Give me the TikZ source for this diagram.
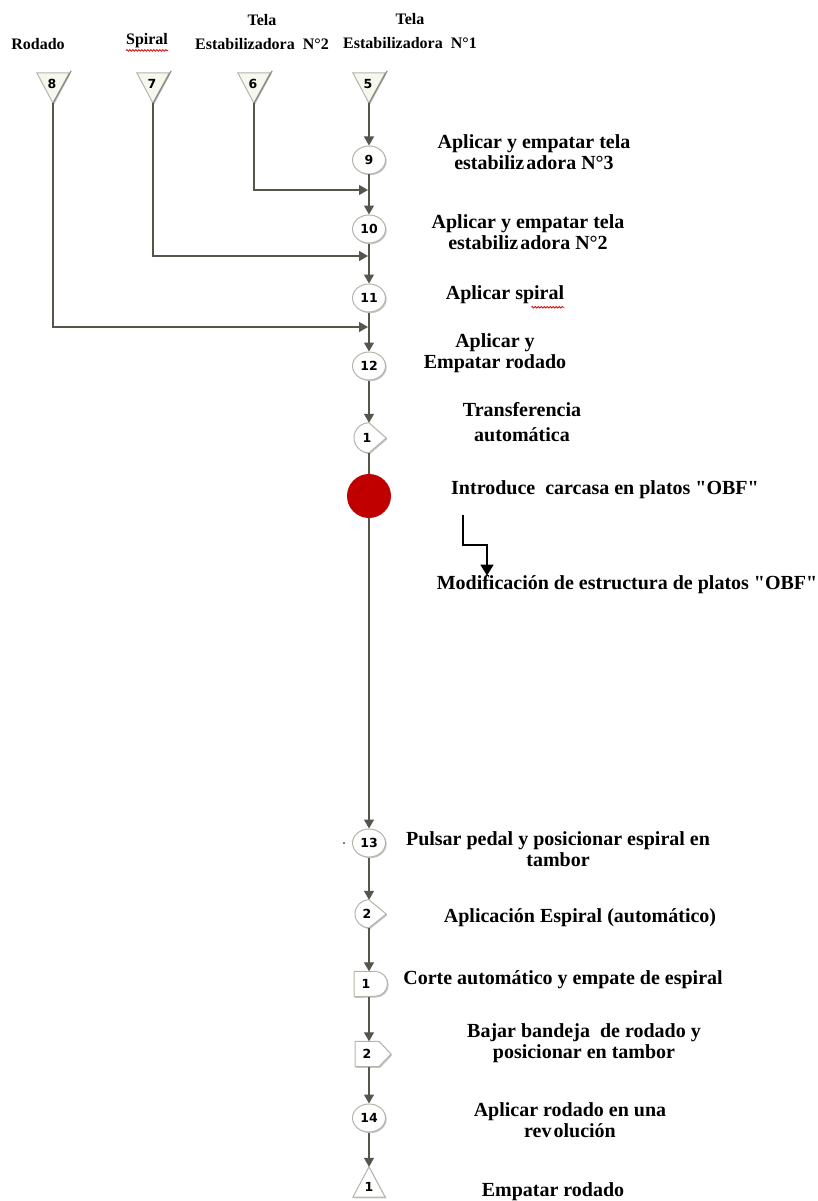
\documentclass[tikz,border=0pt]{standalone}
\usepackage{fontspec}
\setmainfont{Liberation Serif}[Ligatures=TeXOff]
\newfontfamily\numfont{DejaVu Sans}
\usetikzlibrary{arrows.meta,shapes.geometric,shadows,decorations.pathmorphing}
\definecolor{linec}{HTML}{55554A}
\definecolor{edgec}{HTML}{B4B4AA}
\definecolor{paper}{HTML}{F6F7EE}
\definecolor{opred}{HTML}{C00000}

\begin{document}
\begin{tikzpicture}[x=1pt,y=1pt,
  flow/.style={draw=linec,line width=1.3pt},
  arr/.style={flow,-{Triangle[length=9pt,width=10pt]}},
  shp/.style={draw=edgec,line width=1pt,fill=white,
    drop shadow={shadow xshift=1.2pt,shadow yshift=-1.2pt,fill=black!45,opacity=0.5}},
  holder/.style={inner sep=0pt,minimum width=#1},
  num/.style={font=\numfont\bfseries\fontsize{12.5}{13}\selectfont,inner sep=0pt},
  op/.style={shp,ellipse,num,minimum width=33pt,minimum height=28pt},
  lbl/.style={font=\bfseries\fontsize{20}{21}\selectfont,align=center,inner sep=0pt},
  hdr/.style={font=\bfseries\fontsize{16}{24}\selectfont,align=center,inner sep=0pt},
  squig/.style={draw=red!85!black,line width=0.8pt,decorate,
    decoration={snake,amplitude=0.8pt,segment length=3pt}}
]
\useasboundingbox (0,0) rectangle (817,-1201);

% material headings
\node[hdr] (hRod) at (38,-44) {Rodado};
\node[hdr] (hSp) at (147,-41) {Spiral};
\node[hdr] (hT2) at (262,-32) {Tela\\Estabilizadora~~N°2};
\node[hdr] (hT1) at (410,-31) {Tela\\Estabilizadora~~N°1};
\draw[squig] ([yshift=-2pt]hSp.south west) -- ([yshift=-2pt]hSp.south east);

% material storage triangles
\foreach \k/\x in {8/53,7/153,6/254,5/369}{
  \node[holder=32pt,minimum height=30pt] (s\k) at (\x,-88) {};
  \draw[shp,fill=paper] (s\k.north west) -- (s\k.north east) -- (s\k.south) -- cycle;
  \draw[linec!70,line width=1.1pt] (s\k.south) -- ([xshift=2pt,yshift=2pt]s\k.north east);
  \node[num] (sn\k) at (\x-1,-84) {\k};
}

% operations on the main line
\node[op] (o9)  at (369,-160) {9};
\node[op] (o10) at (369,-229) {10};
\node[op] (o11) at (369,-298) {11};
\node[op] (o12) at (369,-366) {12};

% transport 1
\node[holder=34pt,minimum height=30pt] (tr1) at (369,-438) {};
\draw[shp] (tr1.north) arc[start angle=90,end angle=270,radius=15pt] -- (tr1.east) -- cycle;
\node[num] (tr1n) at (367,-438) {1};

% red operation
\node[circle,fill=opred,minimum size=44pt,inner sep=0pt] (red) at (369,-496) {};

\node[op] (o13) at (369,-843) {13};
\fill[linec] (344,-843) circle (1.1pt);

% transport 2
\node[holder=34pt,minimum height=28pt] (tr2) at (369,-914) {};
\draw[shp] (tr2.north) arc[start angle=90,end angle=270,radius=14pt] -- (tr2.east) -- cycle;
\node[num] (tr2n) at (367,-914) {2};

% delay 1
\node[holder=30pt,minimum height=25pt] (d1) at (369,-984) {};
\draw[shp] ([xshift=-15pt]d1.north) -- ([xshift=6pt]d1.north)
  arc[start angle=90,end angle=-90,radius=12.5pt] -- ([xshift=-15pt]d1.south) -- cycle;
\node[num] (d1n) at (366,-984) {1};

% transport 2 (arrow form)
\node[holder=28pt,minimum height=25pt] (pt2) at (369,-1054) {};
\draw[shp] ([xshift=-14pt]pt2.north) -- ([xshift=10pt]pt2.north) -- ([xshift=22pt]pt2.center)
  -- ([xshift=10pt]pt2.south) -- ([xshift=-14pt]pt2.south) -- cycle;
\node[num] (pt2n) at (367,-1054) {2};

\node[op] (o14) at (369,-1118) {14};

% storage 1
\node[holder=32pt,minimum height=30pt] (st1) at (369,-1182) {};
\draw[shp] (st1.north) -- (st1.south east) -- (st1.south west) -- cycle;
\node[num] (st1n) at (369,-1187) {1};

% junctions on the main line
\coordinate (j6) at (368,-190);
\coordinate (j7) at (368,-256);
\coordinate (j8) at (368,-327);

% connectors
\draw[arr] (s5.south) -- (o9);
\draw[arr] (s6.south) |- (j6);
\draw[arr] (s7.south) |- (j7);
\draw[arr] (s8.south) |- (j8);
\draw[arr] (o9) -- (o10);
\draw[arr] (o10) -- (o11);
\draw[arr] (o11) -- (o12);
\draw[arr] (o12) -- (tr1);
\draw[flow] (tr1) -- (red);
\draw[arr] (red) -- (o13);
\draw[arr] (o13) -- (tr2);
\draw[arr] (tr2) -- (d1);
\draw[arr] (d1) -- (pt2);
\draw[arr] (pt2) -- (o14);
\draw[arr] (o14) -- (st1);

% step descriptions
\node[lbl] (l9)  at (534,-152.5) {Aplicar y empatar tela\\estabiliz\kern2pt adora N°3};
\node[lbl] (l10) at (528,-232.5) {Aplicar y empatar tela\\estabiliz\kern2pt adora N°2};
\node[lbl] (l11) at (505,-295) {Aplicar spiral};
\draw[squig] ([xshift=-33pt,yshift=-3pt]l11.south east) -- ([yshift=-3pt]l11.south east);
\node[lbl] (l12) at (495,-353.5) {Aplicar y\\Empatar rodado};
\node[lbl,font=\bfseries\fontsize{20}{25}\selectfont] (ltr1) at (522,-422.5) {Transferencia\\automática};
\node[lbl] (intro) at (605,-490) {Introduce~~carcasa en platos "OBF"};
\node[lbl] (modif) at (627,-585) {Modificación de estructura de platos "OBF"};
\node[lbl] (l13) at (558,-849.5) {Pulsar pedal y posicionar espiral en\\tambor};
\node[lbl] (ltr2) at (580,-918) {Aplicación Espiral (automático)};
\node[lbl] (ld1) at (563,-980) {Corte automático y empate de espiral};
\node[lbl] (lpt2) at (584,-1043) {Bajar bandeja~~de rodado y\\posicionar en tambor};
\node[lbl] (l14) at (570,-1120) {Aplicar rodado en una\\rev\kern2pt olución};
\node[lbl] (lst1) at (553,-1192) {Empatar rodado};

% change note arrow
\coordinate (bk) at (463,-515);
\coordinate (bkx) at (487,0);
\draw[line width=1.5pt,-{Triangle[length=11pt,width=13pt]}]
  (bk) -- ++(0,-30) -| (modif.north -| bkx);
\end{tikzpicture}
\end{document}
